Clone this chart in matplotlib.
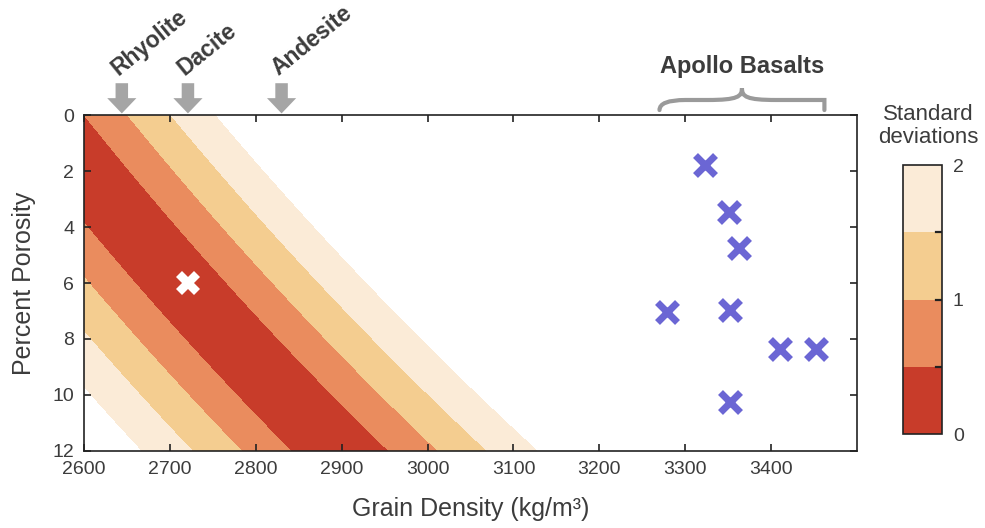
import numpy as np
import matplotlib.pyplot as plt
from matplotlib.path import Path
from matplotlib.patches import PathPatch
import matplotlib.transforms as mtransforms

plt.rcParams['font.family'] = ['Liberation Sans', 'DejaVu Sans']

bulk_mean = 2550
bulk_sd = 101
sd_levels = [0, 0.5, 1, 1.5, 2]
band_colors = ['#C83C2A', '#EA8C5E', '#F4CD90', '#FBEBD7']

# Reference sample (white cross)
sample_density = [2721]
sample_porosity = [6.0]

# Apollo basalts
apollo_density = [3323, 3351, 3363, 3279, 3352, 3410, 3452, 3352]
apollo_porosity = [1.8, 3.45, 4.75, 7.05, 6.95, 8.35, 8.35, 10.25]

# Terrestrial rock types marked by arrows above the plot
rock_names = ['Rhyolite', 'Dacite', 'Andesite']
rock_density = [2644, 2721, 2830]

TXT = '#3c3c3c'

fig = plt.figure(figsize=(9.85, 5.28), dpi=100)
ax = fig.add_axes([0.0853, 0.146, 0.7848, 0.636])

rho = np.linspace(2600, 3500, 600)
phi = np.linspace(0, 12, 400)
R, P = np.meshgrid(rho, phi)
Z = np.abs(R * (1 - P / 100) - bulk_mean) / bulk_sd

cs = ax.contourf(R, P, Z, levels=sd_levels, colors=band_colors)

ax.plot(sample_density, sample_porosity, linestyle='none', marker='X',
        markersize=17, color='white', markeredgewidth=0)
ax.plot(apollo_density, apollo_porosity, linestyle='none', marker='x',
        markersize=15, markeredgewidth=5, color='#6B66D4')

ax.set_xlim(2600, 3500)
ax.set_ylim(12, 0)
ax.set_xticks(np.arange(2600, 3500, 100))
ax.set_yticks(np.arange(0, 13, 2))
ax.tick_params(direction='in', top=True, right=True, length=5, width=1.2,
               labelsize=14, colors='#222222', labelcolor=TXT, pad=7)
for s in ax.spines.values():
    s.set_linewidth(1.2)
    s.set_color('#222222')
ax.set_xlabel('Grain Density (kg/m³)', fontsize=18, color=TXT, labelpad=14)
ax.set_ylabel('Percent Porosity', fontsize=18, color=TXT, labelpad=12)

# arrows and labels above the axes
trans = mtransforms.blended_transform_factory(ax.transData, ax.transAxes)
for name, x in zip(rock_names, rock_density):
    ax.annotate('', xy=(x, 1.005), xytext=(x, 1.095), xycoords=trans, textcoords=trans,
                arrowprops=dict(facecolor='#A5A5A5', edgecolor='none', width=9,
                                headwidth=21, headlength=11),
                annotation_clip=False)
    ax.text(x, 1.104, name, transform=trans, rotation=39, rotation_mode='anchor',
            ha='left', va='bottom', fontsize=16.5, fontweight='bold', color=TXT)

# curly brace over the Apollo basalts
x0, x1 = 3270, 3462
xm = (x0 + x1) / 2
yb, yf, yt = 1.015, 1.045, 1.08
verts = [(x0, yb), (x0, yf), (x0 + 30, yf), (xm - 40, yf),
         (xm - 5, yf), (xm, yf + 0.01), (xm, yt),
         (xm, yf + 0.01), (xm + 5, yf), (xm + 40, yf),
         (x1 - 30, yf), (x1, yf), (x1, yb)]
codes = [Path.MOVETO, Path.CURVE3, Path.CURVE3, Path.LINETO,
         Path.CURVE4, Path.CURVE4, Path.CURVE4,
         Path.CURVE4, Path.CURVE4, Path.CURVE4,
         Path.CURVE3, Path.CURVE3, Path.LINETO]
brace = PathPatch(Path(verts, codes), transform=trans, fill=False,
                  edgecolor='#9A9A9A', linewidth=3, clip_on=False, capstyle='round')
ax.add_patch(brace)
ax.text(xm, 1.11, 'Apollo Basalts', transform=trans, ha='center', va='bottom',
        fontsize=17, fontweight='bold', color=TXT)

# colorbar
cax = fig.add_axes([0.9165, 0.178, 0.0395, 0.509])
cb = fig.colorbar(cs, cax=cax, ticks=[0, 1, 2])
cb.outline.set_linewidth(1.2)
cb.outline.set_edgecolor('#222222')
cax.tick_params(which='major', direction='in', length=0, labelsize=14,
                labelcolor=TXT, pad=8)
cax.minorticks_off()
for v in [0.5, 1, 1.5]:
    cax.axhline(v, xmin=0.86, xmax=1.0, color='#222222', lw=1.6, zorder=10)
fig.text(0.9425, 0.72, 'Standard\ndeviations', ha='center', va='bottom',
         fontsize=16, color=TXT, linespacing=1.1)

fig.savefig('out.png', dpi=100)
